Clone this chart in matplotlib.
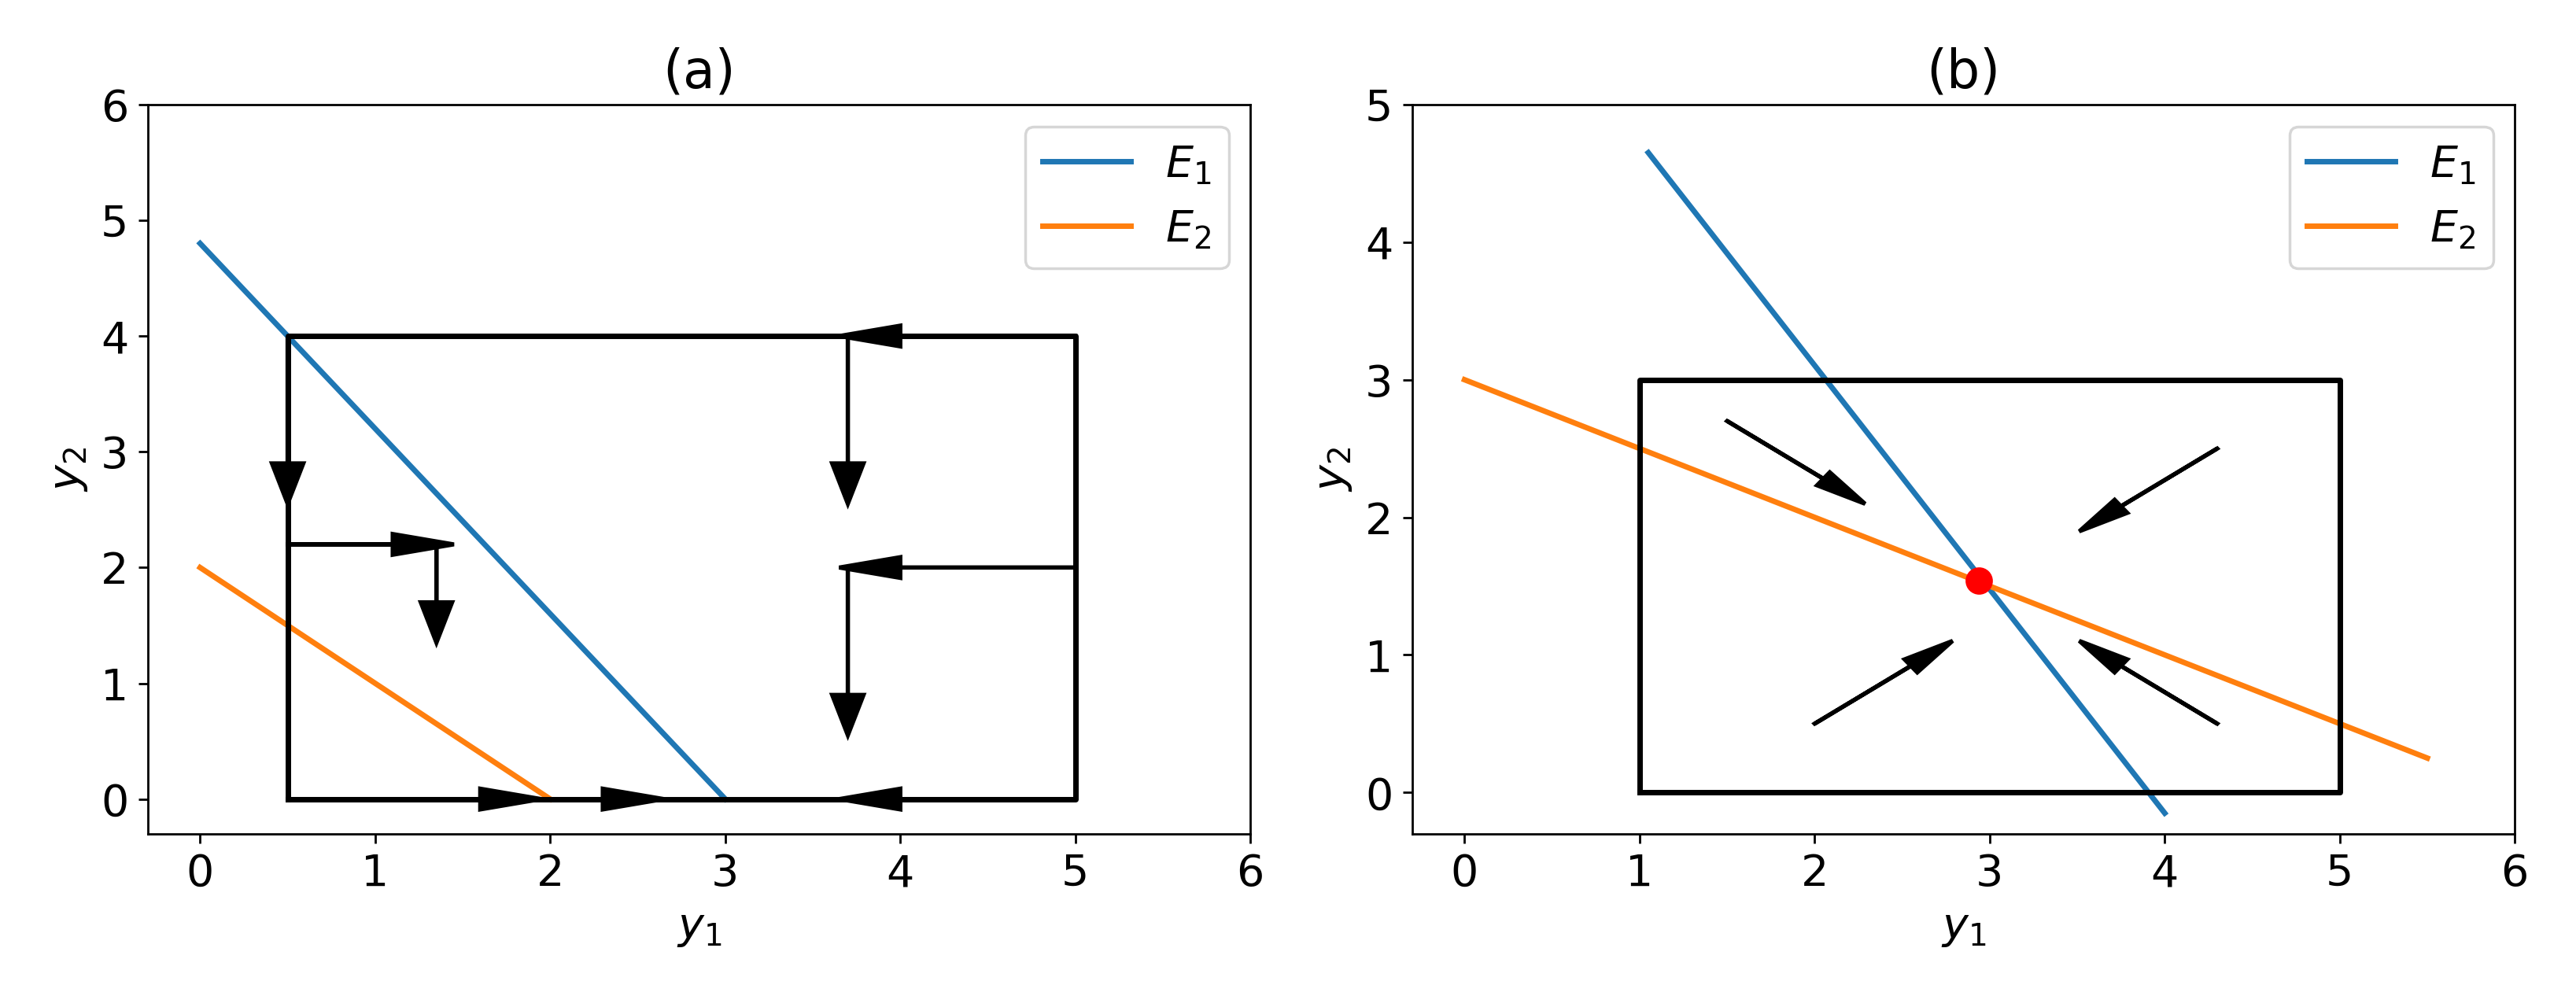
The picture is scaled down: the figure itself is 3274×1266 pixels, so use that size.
import matplotlib
matplotlib.use("Agg")
import matplotlib.pyplot as plt
import numpy as np

# Panel (a)
a_E1_x = [0, 3]; a_E1_y = [4.8, 0]
a_E2_x = [0, 2]; a_E2_y = [2, 0]
a_rect_x = [0.5, 5, 5, 0.5, 0.5]; a_rect_y = [0, 0, 4, 4, 0]
# arrows: (x, y, dx, dy)
a_arrows = [(0.5, 4, 0, -1.1), (0.5, 2.2, 0.6, 0), (1.35, 2.2, 0, -0.5),
            (5, 4, -1.0, 0), (3.7, 4, 0, -1.1), (5, 2, -1.0, 0), (3.7, 2, 0, -1.1),
            (0.5, 0, 1.1, 0), (2.0, 0, 0.3, 0), (5, 0, -1.0, 0)]
a_line_segs = [((0.5, 4), (0.5, 2.2)), ((0.5, 2.2), (1.35, 2.2)), ((3.7, 4), (3.7, 2.6))]

# Panel (b)
b_E1_x = [1.05, 4]; b_E1_y = [4.65, -0.15]
b_E2_x = [0, 5.5]; b_E2_y = [3, 0.25]
b_rect_x = [1, 5, 5, 1, 1]; b_rect_y = [0, 0, 3, 3, 0]
b_eq = (2.94, 1.54)
b_arrows = [(1.5, 2.7, 0.55, -0.42), (4.3, 2.5, -0.55, -0.42),
            (2.0, 0.5, 0.55, 0.42), (4.3, 0.5, -0.55, 0.42)]

plt.rcParams['font.size'] = 16
fig, axes = plt.subplots(1, 2, figsize=(13.096, 5.064), dpi=250)

ax = axes[0]
ax.plot(a_E1_x, a_E1_y, color='#1f77b4', lw=2, label='$E_1$')
ax.plot(a_E2_x, a_E2_y, color='#ff7f0e', lw=2, label='$E_2$')
ax.plot(a_rect_x, a_rect_y, color='k', lw=2)
for x, y, dx, dy in a_arrows:
    ax.arrow(x, y, dx, dy, head_width=0.18, head_length=0.35, fc='k', ec='k', lw=1.5)
ax.set_xlim(-0.3, 6); ax.set_ylim(-0.3, 6)
ax.set_xlabel('$y_1$'); ax.set_ylabel('$y_2$'); ax.set_title('(a)')
ax.legend(loc='upper right')

ax = axes[1]
ax.plot(b_E1_x, b_E1_y, color='#1f77b4', lw=2, label='$E_1$')
ax.plot(b_E2_x, b_E2_y, color='#ff7f0e', lw=2, label='$E_2$')
ax.plot(b_rect_x, b_rect_y, color='k', lw=2)
for x, y, dx, dy in b_arrows:
    ax.arrow(x, y, dx, dy, head_width=0.12, head_length=0.3, fc='k', ec='k', lw=1.5)
ax.plot(*b_eq, 'o', color='red', ms=9, zorder=5)
ax.set_xlim(-0.3, 6); ax.set_ylim(-0.3, 5)
ax.set_xlabel('$y_1$'); ax.set_ylabel('$y_2$'); ax.set_title('(b)')
ax.legend(loc='upper right')

fig.tight_layout()
fig.savefig('out.png', dpi=250)
